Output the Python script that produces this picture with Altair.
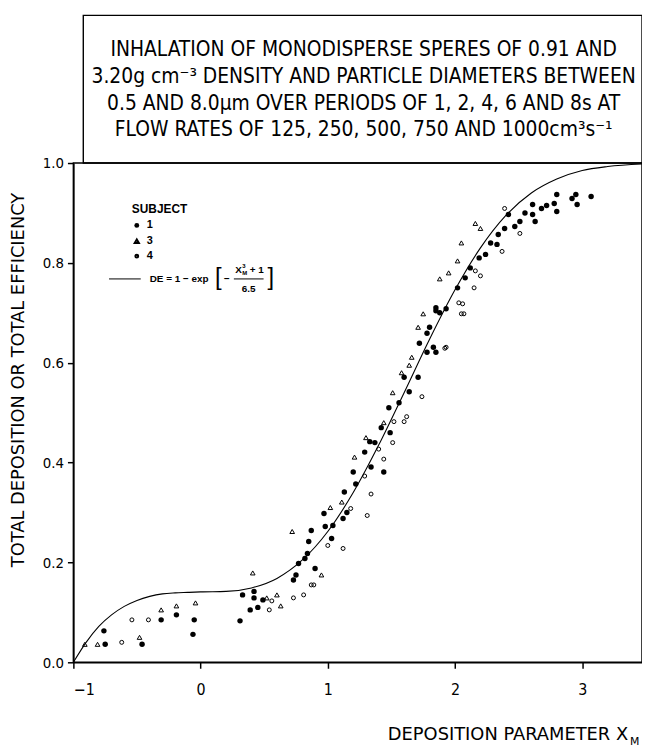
import altair as alt
import pandas as pd

# ---------------- data ----------------
# Subject 1 (filled dots)
s1_x = [-0.76, -0.75, -0.46, -0.31, -0.19, -0.05, -0.06, 0.31, 0.33, 0.42,
        0.42, 0.39, 0.45, 0.49, 0.73, 0.75, 0.77, 0.82, 0.84, 0.90,
        0.85, 0.87, 0.97, 0.98, 1.03, 1.04, 1.12, 1.13, 1.22, 1.20,
        1.34, 1.44, 1.29, 1.33, 1.37, 1.49, 1.48, 1.56, 1.64, 1.60,
        1.71, 1.78, 1.85, 1.72, 1.78, 1.88, 1.85, 1.93, 2.02, 1.83,
        1.80, 1.85, 2.08, 2.19, 2.24, 2.33, 2.34, 2.39, 2.42, 2.51,
        2.47, 2.61, 2.63, 2.68, 2.61, 2.80, 2.80, 2.78, 2.92, 2.96,
        2.95, 3.07, 1.42, 1.15, 2.12, 2.28, 2.55, 2.72]
s1_y = [0.063, 0.036, 0.036, 0.085, 0.095, 0.085, 0.056, 0.083, 0.135, 0.142,
        0.129, 0.105, 0.110, 0.125, 0.165, 0.175, 0.198, 0.208, 0.218, 0.188,
        0.242, 0.264, 0.298, 0.272, 0.248, 0.274, 0.288, 0.341, 0.357, 0.381,
        0.391, 0.381, 0.421, 0.442, 0.440, 0.460, 0.510, 0.520, 0.542, 0.571,
        0.571, 0.621, 0.621, 0.639, 0.659, 0.700, 0.710, 0.708, 0.750, 0.631,
        0.671, 0.704, 0.770, 0.810, 0.817, 0.837, 0.857, 0.869, 0.897, 0.883,
        0.873, 0.897, 0.883, 0.909, 0.917, 0.937, 0.903, 0.919, 0.929, 0.917,
        0.937, 0.933, 0.470, 0.300, 0.790, 0.840, 0.900, 0.915]

# Subject 3 (open triangles)
s3_x = [-0.81, -0.91, -0.48, -0.31, -0.19, -0.04, 0.52, 0.63, 0.41, 0.95,
        0.72, 1.11, 1.21, 1.44, 1.51, 1.64, 1.71, 1.75, 2.20, 2.16,
        2.02, 1.88, 1.95, 1.66, 0.60, 1.02, 1.30, 1.58, 2.05]
s3_y = [0.036, 0.036, 0.050, 0.105, 0.113, 0.119, 0.129, 0.113, 0.179, 0.175,
        0.262, 0.321, 0.411, 0.480, 0.540, 0.595, 0.671, 0.698, 0.869, 0.879,
        0.804, 0.768, 0.780, 0.611, 0.135, 0.310, 0.450, 0.580, 0.840]

# Subject 4 (small open circles)
s4_x = [-0.62, -0.54, -0.41, 0.56, 0.54, 0.73, 0.81, 0.89, 1.12, 1.18,
        1.31, 1.34, 1.29, 1.44, 1.51, 1.52, 1.62, 1.60, 1.74, 1.93,
        2.06, 2.07, 1.92, 2.03, 2.05, 2.15, 2.16, 2.20, 2.37, 2.51,
        0.87, 1.00, 1.40, 2.39]
s4_y = [0.040, 0.085, 0.085, 0.123, 0.105, 0.129, 0.135, 0.155, 0.228, 0.308,
        0.294, 0.337, 0.373, 0.407, 0.440, 0.482, 0.492, 0.482, 0.532, 0.631,
        0.718, 0.698, 0.629, 0.720, 0.698, 0.750, 0.784, 0.774, 0.823, 0.859,
        0.155, 0.234, 0.427, 0.909]

# Fitted curve DE = 1 - exp[-(X_M^3 + 1)/6.5]
curve_x = [-1.0, -0.9, -0.8, -0.7, -0.6, -0.5, -0.4, -0.3, -0.2, -0.1,
           0.0, 0.2, 0.4, 0.6, 0.8, 1.0, 1.2, 1.4, 1.6, 1.8,
           2.0, 2.2, 2.4, 2.6, 2.8, 3.0, 3.2, 3.47]
curve_y = [0.000, 0.040, 0.072, 0.095, 0.112, 0.124, 0.132, 0.137, 0.139, 0.140,
           0.141, 0.142, 0.149, 0.168, 0.205, 0.262, 0.340, 0.435, 0.540, 0.647,
           0.746, 0.830, 0.895, 0.940, 0.968, 0.985, 0.993, 0.998]

x_ticks = [-1, 0, 1, 2, 3]
y_ticks = [0.0, 0.2, 0.4, 0.6, 0.8, 1.0]

title_lines = [
    "INHALATION OF MONODISPERSE SPERES OF 0.91 AND",
    "3.20g cm\u207b\u00b3 DENSITY AND PARTICLE DIAMETERS BETWEEN",
    "0.5 AND 8.0\u00b5m OVER PERIODS OF 1, 2, 4, 6 AND 8s AT",
    "FLOW RATES OF 125, 250, 500, 750 AND 1000cm\u00b3s\u207b\u00b9",
]

# ---------------- chart ----------------
FONT = "DejaVu Sans Condensed, Liberation Sans Narrow, DejaVu Sans, sans-serif"
LFONT = "Liberation Sans, Arial, sans-serif"
W, H = 574, 504

xs = alt.Scale(domain=[-1, 3.47], nice=False, zero=False)
ys = alt.Scale(domain=[0, 1], nice=False, zero=False)

X = alt.X("x:Q", scale=xs, axis=alt.Axis(values=x_ticks, format="d", title=None, grid=False,
                                          labelFont=FONT, labelFontSize=16, labelPadding=14,
                                          tickSize=6, labelColor="black"))
Y = alt.Y("y:Q", scale=ys, axis=alt.Axis(values=y_ticks, format=".1f", title=None, grid=False,
                                          labelFont=FONT, labelFontSize=15, labelPadding=4,
                                          tickSize=6, labelColor="black"))

curve = alt.Chart(pd.DataFrame({"x": curve_x, "y": curve_y})).mark_line(
    color="black", strokeWidth=1.1, interpolate="monotone").encode(x=X, y=Y)

p1 = alt.Chart(pd.DataFrame({"x": s1_x, "y": s1_y})).mark_point(
    shape="circle", filled=True, size=30, color="black", opacity=1).encode(x=X, y=Y)
p3 = alt.Chart(pd.DataFrame({"x": s3_x, "y": s3_y})).mark_point(
    shape="triangle-up", filled=False, size=22, strokeWidth=1, color="black", opacity=1).encode(x=X, y=Y)
p4 = alt.Chart(pd.DataFrame({"x": s4_x, "y": s4_y})).mark_point(
    shape="circle", filled=False, size=16, strokeWidth=1, color="black", opacity=1).encode(x=X, y=Y)

one = pd.DataFrame({"a": [0]})


def txt(s, x, y, size=12, font=FONT, align="left", weight="normal", angle=0, baseline="middle"):
    return alt.Chart(one).mark_text(text=s, font=font, fontSize=size, align=align, baseline=baseline,
                                    fontWeight=weight, angle=angle, color="black", fill="black").encode(
        x=alt.value(x), y=alt.value(y))


layers = [curve, p1, p3, p4]

# title box above the plot
layers.append(alt.Chart(one).mark_rect(fill="white", fillOpacity=0, stroke="black", strokeWidth=1.4).encode(
    x=alt.value(10), x2=alt.value(W), y=alt.value(-149), y2=alt.value(0)))
for i, line in enumerate(title_lines):
    layers.append(txt(line, 293, -114 + 27 * i, size=21, align="center"))

# legend
layers.append(txt("SUBJECT", 59, 46, size=12, font=LFONT, weight="bold"))
layers.append(alt.Chart(one).mark_point(shape="circle", filled=True, size=24, color="black", opacity=1).encode(
    x=alt.value(64), y=alt.value(63)))
layers.append(alt.Chart(one).mark_point(shape="triangle-up", filled=False, size=18, color="black", opacity=1).encode(
    x=alt.value(64), y=alt.value(79)))
layers.append(alt.Chart(one).mark_point(shape="circle", filled=False, size=8, color="black", opacity=1).encode(
    x=alt.value(64), y=alt.value(94)))
for lab, yy in [("1", 63), ("3", 79), ("4", 94)]:
    layers.append(txt(lab, 74, yy, size=11, font=LFONT, weight="bold"))
layers.append(alt.Chart(one).mark_rule(color="black", strokeWidth=1).encode(
    x=alt.value(36), x2=alt.value(68), y=alt.value(117)))
layers.append(txt("DE = 1 \u2212 exp", 77, 117, size=10, font=LFONT, weight="bold"))
layers.append(txt("[", 143, 116, size=24, font=LFONT))
layers.append(txt("\u2212", 152, 117, size=10, font=LFONT, weight="bold"))
layers.append(txt("X", 170, 108, size=10, font=LFONT, weight="bold", align="right"))
layers.append(txt("M", 170.5, 111, size=6, font=LFONT, weight="bold"))
layers.append(txt("3", 170.5, 104, size=6, font=LFONT, weight="bold"))
layers.append(txt("+ 1", 178, 108, size=10, font=LFONT, weight="bold"))
layers.append(alt.Chart(one).mark_rule(color="black", strokeWidth=1).encode(
    x=alt.value(162), x2=alt.value(192), y=alt.value(117)))
layers.append(txt("6.5", 177, 127, size=10, font=LFONT, weight="bold", align="center"))
layers.append(txt("]", 196, 116, size=24, font=LFONT))

# axis titles
layers.append(txt("TOTAL DEPOSITION OR TOTAL EFFICIENCY", -55, 219, size=18, font="DejaVu Sans",
                  align="center", angle=270))
layers.append(txt("DEPOSITION PARAMETER  X", 560, 577, size=18, font="DejaVu Sans", align="right"))
layers.append(txt("M", 562, 584, size=11, font="DejaVu Sans"))

chart = alt.layer(*layers).properties(
    width=W, height=H,
    autosize=alt.AutoSizeParams(type="none"),
    padding={"left": 66, "top": 153, "right": 0, "bottom": 82},
).configure_view(stroke="black", strokeWidth=1.5).configure_axis(
    domainColor="black", domainWidth=1.5, tickColor="black", tickWidth=1.5
)

chart.save("out.html", embed_options={"renderer": "svg", "actions": False})
